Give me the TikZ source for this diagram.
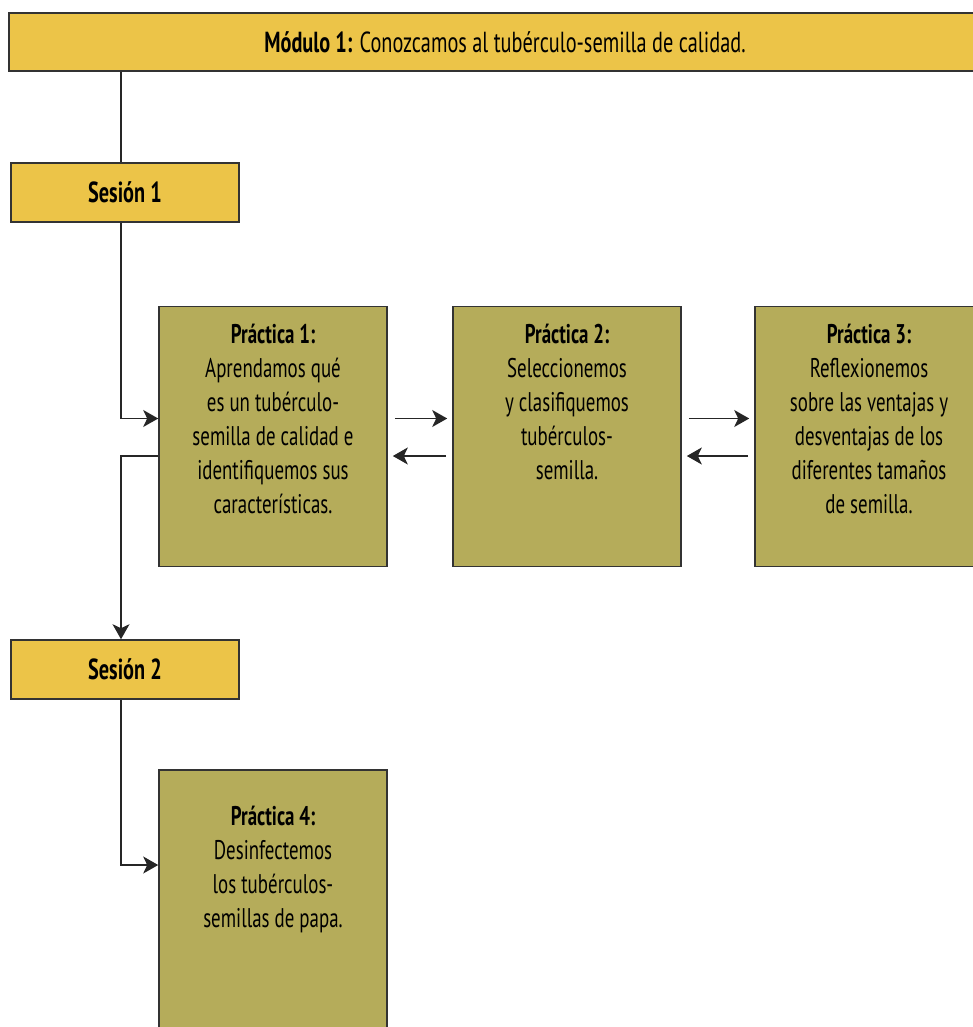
\documentclass[tikz,border=0pt]{standalone}
\usepackage{fontspec}
\setmainfont[FakeStretch=0.7]{PT Sans}
\usetikzlibrary{arrows.meta,positioning}
\definecolor{modgold}{RGB}{236,196,72}
\definecolor{pracolive}{RGB}{181,172,90}

\begin{document}
\begin{tikzpicture}[x=1pt,y=-1pt,
		box/.style={draw=black!80,line width=1.6pt,inner sep=0pt},
		sesbox/.style={box,fill=modgold,minimum width=228pt,minimum height=59pt,font=\fontsize{29pt}{30pt}\selectfont\bfseries},
		pracbox/.style={box,fill=pracolive,minimum width=228pt,minimum height=260pt},
		practext/.style={align=center,inner sep=0pt,text=black,font=\fontsize{27pt}{34pt}\selectfont},
		link/.style={line width=1.5pt,draw=black!85},
		arr/.style={link,-{Stealth[length=15pt,width=17pt,inset=4pt]}}]
		\useasboundingbox (0,0) rectangle (972,1027);

		% Module bar and sessions
		\node[box,fill=modgold,minimum width=992pt,minimum height=58pt,font=\fontsize{29pt}{30pt}\selectfont] (modulo) at (505,42)
			{\textbf{Módulo 1:} Conozcamos al tubérculo-semilla de calidad.};
		\node[sesbox] (ses1) at (125,192.5) {Sesión 1};
		\node[sesbox] (ses2) at (125,669.5) {Sesión 2};

		% Practice boxes
		\node[pracbox] (p1) at (273,436.5) {};
		\node[pracbox] (p2) at (567,436.5) {};
		\node[pracbox] (p3) at (869,436.5) {};
		\node[pracbox] (p4) at (273,900) {};

		\node[practext,below=18pt of p1.north] (p1t) {\textbf{Práctica 1:}\\Aprendamos qué\\es un tubérculo-\\semilla de calidad e\\identifiquemos sus\\características.};
		\node[practext,below=18pt of p2.north] (p2t) {\textbf{Práctica 2:}\\Seleccionemos\\y clasifiquemos\\tubérculos-\\semilla.};
		\node[practext,below=18pt of p3.north] (p3t) {\textbf{Práctica 3:}\\Reflexionemos\\sobre las ventajas y\\desventajas de los\\diferentes tamaños\\de semilla.};
		\node[practext,below=37pt of p4.north] (p4t) {\textbf{Práctica 4:}\\Desinfectemos\\los tubérculos-\\semillas de papa.};

		% Connectors
		\coordinate (s1top) at ([xshift=-4pt]ses1.north);
		\draw[link] (modulo.south -| s1top) -- (s1top);
		\draw[arr] ([xshift=-4pt]ses1.south) |- ([yshift=18pt]p1.west);
		\draw[arr] ([yshift=-19.5pt]p1.west) -| ([xshift=-4pt]ses2.north);
		\draw[arr] ([xshift=-4pt]ses2.south) |- ([yshift=35pt]p4.west);
		\foreach \a/\b in {p1/p2, p2/p3} {
			\draw[arr] ([xshift=7pt,yshift=18pt]\a.east) -- ([xshift=-5pt,yshift=18pt]\b.west);
			\draw[arr] ([xshift=-6pt,yshift=-19.5pt]\b.west) -- ([xshift=5pt,yshift=-19.5pt]\a.east);
		}
\end{tikzpicture}
\end{document}
